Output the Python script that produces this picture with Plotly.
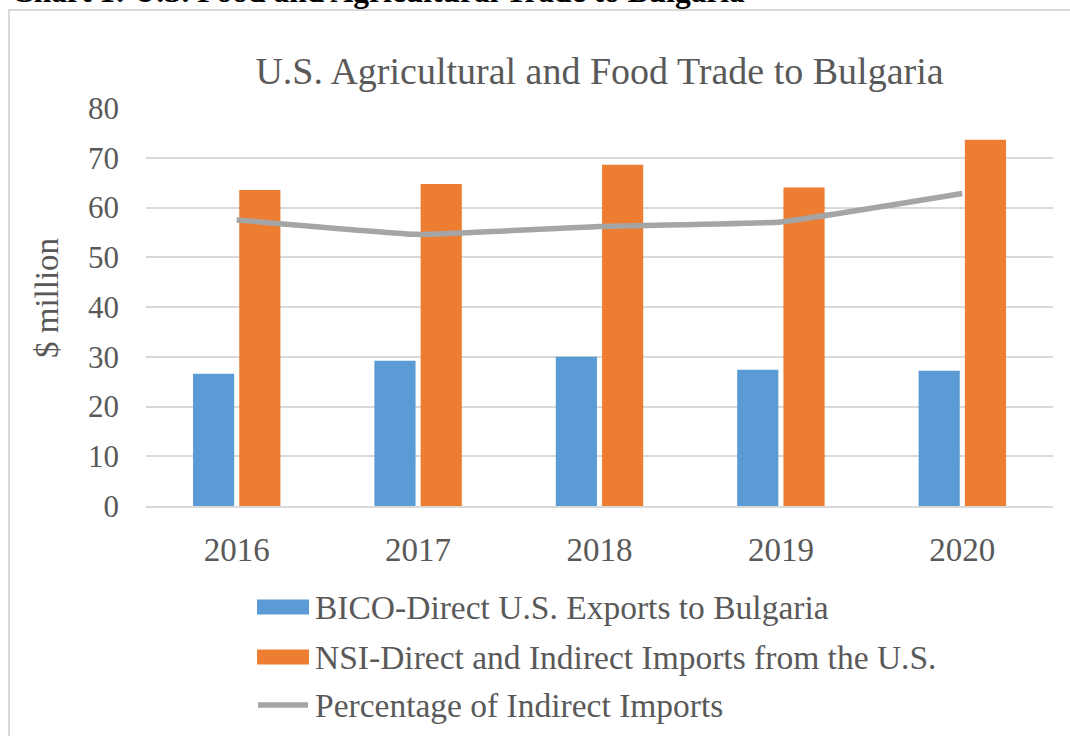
import plotly.graph_objects as go

years = ["2016", "2017", "2018", "2019", "2020"]
bico = [26.6, 29.2, 30.0, 27.4, 27.2]
nsi = [63.5, 64.7, 68.6, 64.0, 73.6]
pct_indirect = [57.5, 54.6, 56.2, 57.1, 62.8]
yticks = [0, 10, 20, 30, 40, 50, 60, 70, 80]

names = ["BICO-Direct U.S. Exports to Bulgaria",
         "NSI-Direct and Indirect Imports from the U.S.",
         "Percentage of Indirect Imports"]
BLUE, ORANGE, GRAY = "#5B9BD5", "#ED7D31", "#A5A5A5"
TXT = "#595959"
FONT = "Liberation Serif"

W, H = 1070, 736
L, R, T, B = 146, 17, 108, 230
pw, ph = W - L - R, H - T - B

def px(x):
    return (x - L) / pw

def py(y):
    return (H - B - y) / ph

fig = go.Figure()
fig.add_trace(go.Bar(x=years, y=bico, name=names[0], marker=dict(color=BLUE, line=dict(width=0)), showlegend=False))
fig.add_trace(go.Bar(x=years, y=nsi, name=names[1], marker=dict(color=ORANGE, line=dict(width=0)), showlegend=False))
fig.add_trace(go.Scatter(x=years, y=pct_indirect, name=names[2], mode="lines",
                         line=dict(color=GRAY, width=5.5, shape="spline", smoothing=0.3), showlegend=False))

shapes = []
annotations = []
# outer chart border
shapes.append(dict(type="rect", xref="paper", yref="paper",
                   x0=px(9), x1=px(1080), y0=py(760), y1=py(10),
                   line=dict(color="#D9D9D9", width=2), fillcolor="rgba(0,0,0,0)", layer="below"))

# custom legend
rows = [607, 657, 705]
for i, (nm, yc) in enumerate(zip(names, rows)):
    if i < 2:
        shapes.append(dict(type="rect", xref="paper", yref="paper",
                           x0=px(257), x1=px(309), y0=py(yc + 7.5), y1=py(yc - 7.5),
                           fillcolor=[BLUE, ORANGE][i], line=dict(width=0)))
    else:
        shapes.append(dict(type="line", xref="paper", yref="paper",
                           x0=px(258), x1=px(308), y0=py(yc), y1=py(yc),
                           line=dict(color=GRAY, width=5.5)))
    annotations.append(dict(text=nm, xref="paper", yref="paper", x=px(313), y=py(yc),
                            xanchor="left", yanchor="middle", showarrow=False,
                            font=dict(family=FONT, size=33.5, color=TXT)))

# y axis title
annotations.append(dict(text="$ million", xref="paper", yref="paper", x=px(47), y=py(298),
                        xanchor="center", yanchor="middle", textangle=-90, showarrow=False,
                        font=dict(family=FONT, size=33, color=TXT)))
# header (cut off at top, as in the reference)
annotations.append(dict(text="<b>Chart 1: U.S. Food and Agricultural Trade to Bulgaria</b>",
                        xref="paper", yref="paper", x=px(9), y=py(11), xanchor="left", yanchor="bottom",
                        showarrow=False, font=dict(family=FONT, size=31.5, color="#000000")))

fig.update_layout(
    width=W, height=H,
    margin=dict(l=L, r=R, t=T, b=B, pad=0),
    paper_bgcolor="white", plot_bgcolor="white",
    barmode="group", bargap=0.49, bargroupgap=0.11,
    title=dict(text="U.S. Agricultural and Food Trade to Bulgaria", x=0.5, xref="paper",
               y=1 - 71 / H, yref="container", yanchor="middle", xanchor="center",
               font=dict(family=FONT, size=38, color=TXT)),
    font=dict(family=FONT, color=TXT),
    shapes=shapes, annotations=annotations,
    xaxis=dict(showgrid=False, showline=True, linecolor="#D9D9D9", linewidth=2,
               ticks="", tickfont=dict(family=FONT, size=33, color=TXT), ticklabelstandoff=13),
    yaxis=dict(range=[0, 80], tickvals=yticks, showgrid=True, gridcolor="#D9D9D9", gridwidth=2,
               zeroline=False, showline=False, ticks="",
               tickfont=dict(family=FONT, size=31, color=TXT), ticklabelstandoff=26),
)

fig.write_html("out.html")
